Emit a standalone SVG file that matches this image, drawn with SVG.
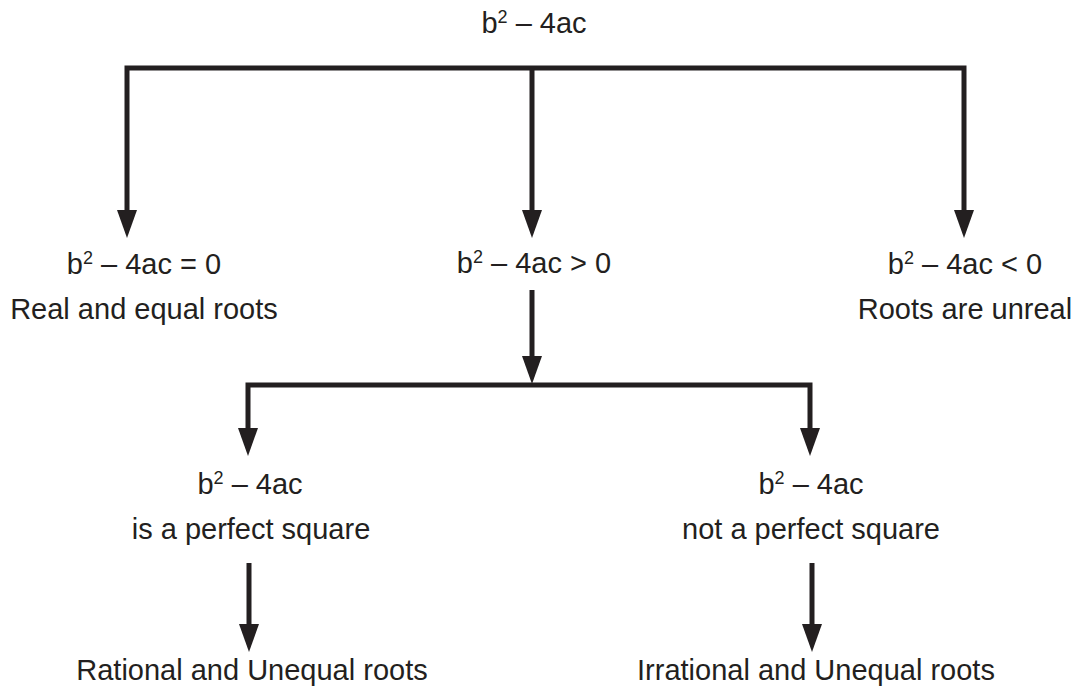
<svg xmlns="http://www.w3.org/2000/svg" width="1080" height="690" viewBox="0 0 1080 690">
  <style>
    text { font-family: "Liberation Sans", Arial, sans-serif; font-size: 29px; fill: #231f20; text-anchor: middle; }
    .sup { font-size: 18px; }
    .conn { fill: none; stroke: #231f20; stroke-width: 5; stroke-linejoin: miter; stroke-linecap: butt; }
  </style>
  <defs>
    <marker id="arrow" viewBox="0 0 28 20" refX="1" refY="10" markerWidth="28" markerHeight="20" markerUnits="userSpaceOnUse" orient="auto-start-reverse">
      <path d="M0,0 L28,10 L0,20 Z" fill="#231f20"/>
    </marker>
  </defs>
  <rect width="1080" height="690" fill="#ffffff"/>

  <g id="connectors">
    <path class="conn" d="M127,211 V68 H964 V211" marker-start="url(#arrow)" marker-end="url(#arrow)"/>
    <path class="conn" d="M532,68 V211" marker-end="url(#arrow)"/>
    <path class="conn" d="M532,290 V357" marker-end="url(#arrow)"/>
    <path class="conn" d="M248,429 V385 H810 V429" marker-start="url(#arrow)" marker-end="url(#arrow)"/>
    <path class="conn" d="M249,563 V625" marker-end="url(#arrow)"/>
    <path class="conn" d="M812,563 V625" marker-end="url(#arrow)"/>
  </g>

  <g id="root">
    <text x="534" y="33">b<tspan class="sup" dy="-10">2</tspan><tspan dy="10"> – 4ac</tspan></text>
  </g>
  <g id="equal">
    <text x="144" y="274">b<tspan class="sup" dy="-10">2</tspan><tspan dy="10"> – 4ac = 0</tspan></text>
    <text x="144" y="319">Real and equal roots</text>
  </g>
  <g id="positive">
    <text x="534" y="273">b<tspan class="sup" dy="-10">2</tspan><tspan dy="10"> – 4ac &gt; 0</tspan></text>
  </g>
  <g id="negative">
    <text x="965" y="274">b<tspan class="sup" dy="-10">2</tspan><tspan dy="10"> – 4ac &lt; 0</tspan></text>
    <text x="965" y="319">Roots are unreal</text>
  </g>
  <g id="perfect">
    <text x="250" y="494">b<tspan class="sup" dy="-10">2</tspan><tspan dy="10"> – 4ac</tspan></text>
    <text x="251" y="539">is a perfect square</text>
  </g>
  <g id="notperfect">
    <text x="811" y="494">b<tspan class="sup" dy="-10">2</tspan><tspan dy="10"> – 4ac</tspan></text>
    <text x="811" y="539">not a perfect square</text>
  </g>
  <g id="rational">
    <text x="252" y="680">Rational and Unequal roots</text>
  </g>
  <g id="irrational">
    <text x="816" y="680">Irrational and Unequal roots</text>
  </g>
</svg>
